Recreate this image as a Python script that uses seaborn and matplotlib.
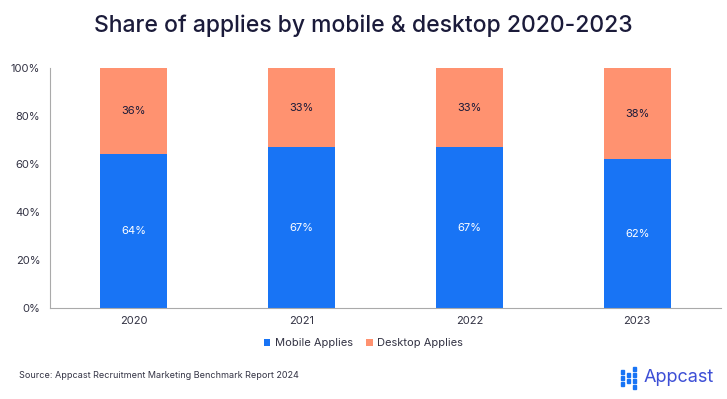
import matplotlib
matplotlib.use("Agg")
import matplotlib.pyplot as plt
import seaborn as sns
import pandas as pd
from matplotlib.patches import Rectangle

years = ["2020", "2021", "2022", "2023"]
mobile = [64, 67, 67, 62]
desktop = [36, 33, 33, 38]
series_names = ["Mobile Applies", "Desktop Applies"]
title = "Share of applies by mobile & desktop 2020-2023"
source = "Source: Appcast Recruitment Marketing Benchmark Report 2024"

BLUE = "#1874F5"
ORANGE = "#FF9270"
NAVY = "#1b1b3a"

sns.set_theme(style="white")
plt.rcParams['font.family'] = ['Inter', 'DejaVu Sans']

df = pd.DataFrame({"year": years, "mobile": mobile, "desktop": desktop})
df["total"] = df["mobile"] + df["desktop"]

fig = plt.figure(figsize=(7.27, 3.99), dpi=100)
ax = fig.add_axes([50/727, 1-308/399, 671/727, 240/399])

sns.barplot(data=df, x="year", y="total", color=ORANGE, width=0.4, ax=ax,
            saturation=1, label=series_names[1], linewidth=0)
sns.barplot(data=df, x="year", y="mobile", color=BLUE, width=0.4, ax=ax,
            saturation=1, label=series_names[0], linewidth=0)
handles, labels = ax.get_legend_handles_labels()
if ax.get_legend() is not None:
    ax.get_legend().remove()

for i, (m, d) in enumerate(zip(mobile, desktop)):
    ax.text(i, m / 2, f"{m}%", ha="center", va="center", color="white", fontsize=8)
    ax.text(i, m + d / 2, f"{d}%", ha="center", va="center", color=NAVY, fontsize=8)

ax.set_ylim(0, 100)
ax.set_xlim(-0.5, 3.5)
ax.set_yticks([0, 20, 40, 60, 80, 100])
ax.set_yticklabels([f"{v}%" for v in [0, 20, 40, 60, 80, 100]])
ax.set_xlabel("")
ax.set_ylabel("")
ax.tick_params(axis="both", colors="#333344", labelsize=8, length=0, pad=6)
ax.tick_params(axis="y", length=3, color="#aaaaaa", pad=4)
for s in ["top", "right"]:
    ax.spines[s].set_visible(False)
for s in ["left", "bottom"]:
    ax.spines[s].set_color("#aaaaaa")
    ax.spines[s].set_linewidth(0.8)

order = [labels.index(series_names[0]), labels.index(series_names[1])]
leg = fig.legend([handles[k] for k in order], [labels[k] for k in order],
                 loc="center", bbox_to_anchor=(0.5, 1-343/399), ncol=2, frameon=False,
                 fontsize=8, handlelength=0.6, handleheight=0.6, handletextpad=0.4,
                 columnspacing=1.2)
for t in leg.get_texts():
    t.set_color("#333344")

fig.text(0.5, 1-26/399, title, ha="center", va="center", fontsize=16.5,
         color=NAVY, fontweight="medium")
fig.text(19/727, 1-375/399, source, ha="left", va="center", fontsize=6.5, color="#333344")

# Appcast logo
logo_color = "#3d4fd6"
fig.text(644/727, 1-378/399, "Appcast", ha="left", va="center", fontsize=13, color=logo_color)
sq = 3.2
cols_x = [621, 627, 633]
rows = {0: [372, 378, 384], 1: [375, 381], 2: [369, 375, 381, 387]}
for ci, cx in enumerate(cols_x):
    for ry in rows[ci]:
        fig.patches.append(Rectangle((cx/727, 1-(ry+sq/2)/399), sq/727, sq/399,
                                     transform=fig.transFigure, color=BLUE))

fig.savefig("out.png", dpi=100)
